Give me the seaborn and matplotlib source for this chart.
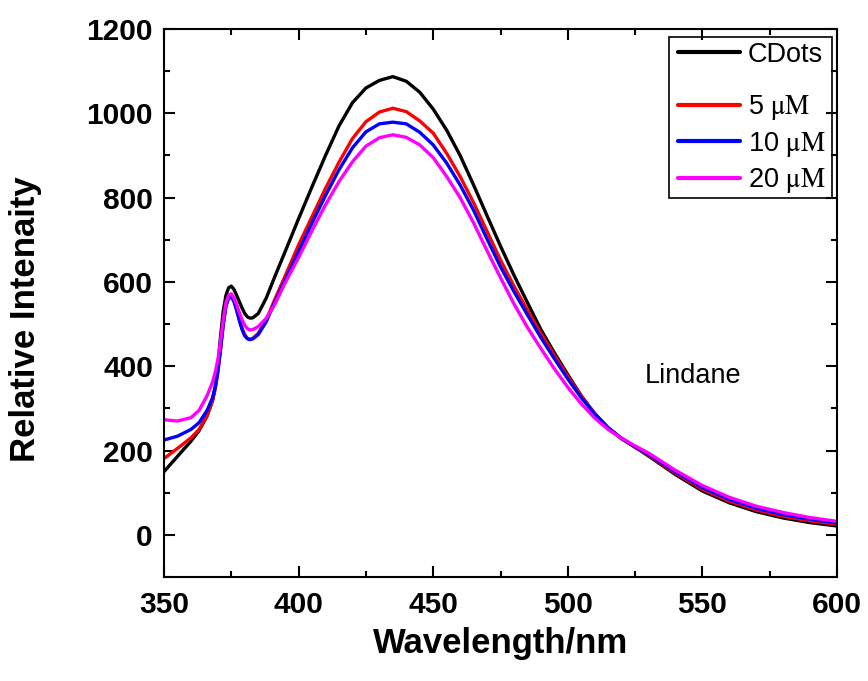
import numpy as np
import pandas as pd
import matplotlib
matplotlib.use("Agg")
import matplotlib.pyplot as plt
import seaborn as sns
from matplotlib.ticker import MultipleLocator
from matplotlib.patches import Rectangle

wavelength = [350, 355, 360, 363, 366, 368, 369, 370, 371, 372, 373, 374, 375, 376, 377, 378, 379, 380,
              381, 382, 383, 385, 388, 391, 395, 400, 405, 410, 415, 420, 425, 430, 435, 440, 445, 450,
              455, 460, 465, 470, 475, 480, 485, 490, 495, 500, 505, 510, 515, 520, 525, 530, 540, 550,
              560, 570, 580, 590, 600]

cdots = [150, 186, 222, 247, 282, 318, 350, 400, 470, 530, 568, 586, 590, 582, 568, 553, 538, 525,
         517, 514, 515, 525, 562, 610, 672, 750, 826, 900, 970, 1025, 1060, 1078, 1087, 1076, 1050, 1010,
         960, 900, 830, 757, 685, 616, 551, 487, 432, 380, 330, 287, 253, 228, 208, 187, 143, 104,
         76, 55, 40, 29, 21]

um5 = [181, 205, 230, 250, 283, 318, 345, 385, 440, 500, 545, 565, 568, 556, 535, 512, 490, 475,
       466, 464, 466, 478, 510, 556, 614, 688, 755, 822, 884, 940, 980, 1003, 1012, 1004, 982, 953,
       905, 850, 788, 720, 652, 590, 533, 478, 426, 376, 329, 288, 254, 228, 208, 189, 146, 108,
       80, 59, 44, 33, 25]

um10 = [225, 234, 250, 266, 295, 325, 350, 388, 440, 498, 542, 561, 565, 553, 532, 508, 487, 472,
        465, 463, 465, 475, 506, 550, 604, 672, 740, 805, 866, 918, 956, 975, 979, 975, 955, 925,
        882, 830, 770, 702, 636, 577, 522, 468, 418, 370, 325, 287, 254, 229, 209, 191, 149, 112,
        84, 63, 48, 37, 28]

um20 = [273, 270, 278, 295, 330, 362, 385, 415, 460, 510, 550, 568, 572, 562, 546, 527, 510, 497,
        489, 486, 487, 494, 514, 545, 598, 658, 722, 783, 838, 885, 922, 942, 949, 943, 925, 895,
        850, 800, 740, 674, 610, 548, 492, 442, 394, 350, 311, 277, 250, 229, 211, 194, 153, 117,
        89, 68, 53, 41, 32]

series_names = ["CDots", "5 $\\mathrm{\\mu M}$", "10 $\\mathrm{\\mu M}$", "20 $\\mathrm{\\mu M}$"]
series_values = [cdots, um5, um10, um20]
series_colors = ["#000000", "#ff0000", "#0000ff", "#ff00ff"]

sns.set_theme(style="ticks")
plt.rcParams["font.family"] = ["Liberation Sans", "DejaVu Sans"]
plt.rcParams["mathtext.fontset"] = "stix"
plt.rcParams["text.color"] = "black"
plt.rcParams["axes.labelcolor"] = "black"

fig, ax = plt.subplots(figsize=(8.68, 6.81), dpi=100)
fig.subplots_adjust(left=164/868, right=837/868, top=1-29/681, bottom=104/681)

for name, vals, col in zip(series_names, series_values, series_colors):
    df = pd.DataFrame({"wl": wavelength, "v": vals})
    sns.lineplot(data=df, x="wl", y="v", color=col, lw=2.4, ax=ax, legend=False,
                 label=name, sort=False)

ax.set_xlim(350, 600)
ax.xaxis.set_major_locator(MultipleLocator(50))
ax.xaxis.set_minor_locator(MultipleLocator(25))
ax.yaxis.set_major_locator(MultipleLocator(200))
ax.yaxis.set_minor_locator(MultipleLocator(100))
ax.set_ylim(-100, 1200)

ax.tick_params(which="both", direction="in", top=True, right=True, width=1.5, colors="black")
ax.tick_params(which="major", length=8, labelsize=21.5, pad=8)
ax.tick_params(axis="x", which="major", pad=10)
ax.tick_params(which="minor", length=4.5)
for lab in ax.get_xticklabels() + ax.get_yticklabels():
    lab.set_fontweight("bold")
for s in ax.spines.values():
    s.set_linewidth(1.5)
    s.set_color("black")

ax.set_xlabel("Wavelength/nm", fontsize=25, fontweight="bold", color="black")
ax.set_ylabel("Relative Intenaity", fontsize=25, fontweight="bold", color="black")
ax.xaxis.set_label_coords(0.5, -0.091)
ax.xaxis.label.set_va("top")
ax.yaxis.set_label_coords(-0.182, 0.471)

ax.text(0.786, 0.367, "Lindane", transform=ax.transAxes, fontsize=19.5,
        ha="center", va="center", color="black")

handles = ax.get_lines()
fs = 19.5
hl = 62 / (fs * 100 / 72)
leg1 = ax.legend([handles[0]], [series_names[0]], loc="center left",
                 bbox_to_anchor=(0.7637, 0.9526), frameon=False, fontsize=fs,
                 handlelength=hl, handletextpad=0.28, borderpad=0, borderaxespad=0)
ax.add_artist(leg1)
leg2 = ax.legend(handles[1:], series_names[1:], loc="center left",
                 bbox_to_anchor=(0.7637, 0.7894), frameon=False, fontsize=fs,
                 handlelength=hl, handletextpad=0.28, borderpad=0, borderaxespad=0,
                 labelspacing=0.28)
for leg in (leg1, leg2):
    for ln in leg.get_lines():
        ln.set_linewidth(3)
    for t in leg.get_texts():
        t.set_color("black")

ax.add_patch(Rectangle((0.750, 0.6916), 0.2426, 0.2938, transform=ax.transAxes,
                       fill=False, ec="black", lw=1.2, zorder=5))

fig.savefig("out.png", dpi=100)
